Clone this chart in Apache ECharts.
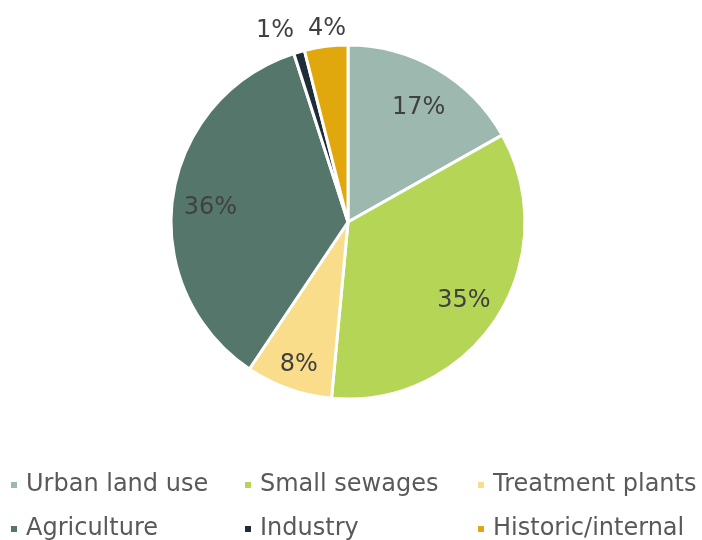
<!DOCTYPE html>
<html><head><meta charset="utf-8">
<script src="https://cdn.jsdelivr.net/npm/echarts@6/dist/echarts.min.js"></script>
<style>html,body{margin:0;padding:0;background:#fff}#c{width:702px;height:540px}</style>
</head><body><div id="c"></div>
<script>
const categories = ['Urban land use','Small sewages','Treatment plants','Agriculture','Industry','Historic/internal'];
const values = [17, 35, 8, 36, 1, 4];
const colors = ['#9DB8AE','#B4D556','#F9DD8B','#55776B','#1E2D38','#E0A80C'];
// label placement style: 'in' = inside ring, 'top' = above pie ring, 'out' = outside label
const labelMode = ['in','in','in','in','out','top'];
const labelNudge = [[-2,10],[-5,0],[-1,7],[5,6],[6,0],[4,6]];

const font = 'DejaVu Sans, Verdana, sans-serif';
const data = categories.map((n,i)=>({name:n, value:values[i], itemStyle:{color:colors[i]}}));
const chart = echarts.init(document.getElementById('c'));
const center = [348, 222];
const legendPos = [[9,473],[243,473],[476,473],[9,517],[243,517],[476,517]];
const legends = categories.map((n,i)=>({
  data:[n], left:legendPos[i][0], top:legendPos[i][1], icon:'rect', itemWidth:8, itemHeight:8, itemGap:0,
  padding:0, textStyle:{fontFamily:font, fontSize:24, color:'#595959', padding:[0,0,0,3]}, selectedMode:false
}));
const labelStyle = {formatter:'{c}%', fontFamily:font, fontSize:24, color:'#404040'};
function ring(mode){
  return categories.map((n,i)=>({name:n, value:values[i], itemStyle:{color:'rgba(0,0,0,0)'},
    label:{show:labelMode[i]===mode, offset:labelNudge[i]}}));
}
chart.setOption({
  animation:false,
  legend:legends,
  series:[
    {type:'pie', center:center, radius:[0,177], data:data, startAngle:90,
     itemStyle:{borderColor:'#fff', borderWidth:3}, label:{show:false}, labelLine:{show:false}, silent:true},
    {type:'pie', center:center, radius:[100,182], startAngle:90, silent:true, avoidLabelOverlap:false,
     data:ring('in'), itemStyle:{borderWidth:0}, labelLine:{show:false},
     label:Object.assign({position:'inside'}, labelStyle)},
    {type:'pie', center:center, radius:[180,216], startAngle:90, silent:true, avoidLabelOverlap:false,
     data:ring('top'), itemStyle:{borderWidth:0}, labelLine:{show:false},
     label:Object.assign({position:'inside'}, labelStyle)},
    {type:'pie', center:center, radius:[0,177], startAngle:90, silent:true, avoidLabelOverlap:false,
     data:ring('out'), itemStyle:{borderWidth:0}, labelLine:{show:false, length:22, length2:0},
     label:Object.assign({position:'outside'}, labelStyle)}
  ]
});
</script></body></html>
